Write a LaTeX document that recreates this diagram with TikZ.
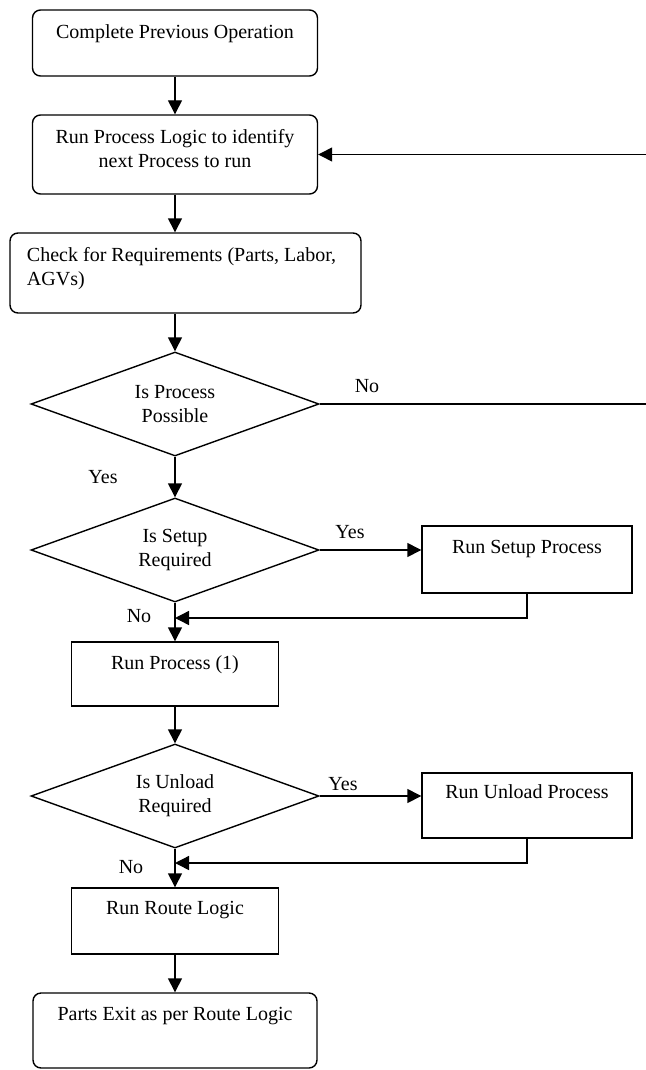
\documentclass[tikz,border=0pt]{standalone}
\usepackage{fontspec}
\setmainfont{Liberation Serif}
\usetikzlibrary{shapes.geometric,arrows.meta}
\begin{document}
\begin{tikzpicture}[x=1pt,y=-1pt,line width=1.4pt,>={Triangle[length=14pt,width=14pt]}]
        \tikzstyle{rproc}=[draw,rounded corners=8pt,inner sep=0pt]
        \tikzstyle{proc}=[draw,inner sep=0pt]
        \tikzstyle{decision}=[draw,diamond,aspect=2.77,inner sep=0pt,minimum width=288pt,minimum height=104pt,align=center,font=\fontsize{20}{24}\selectfont]
        \tikzstyle{txt}=[anchor=north,align=center,inner sep=0pt,font=\fontsize{20}{24}\selectfont]
        \tikzstyle{lbl}=[inner sep=0pt,font=\fontsize{20}{24}\selectfont]
        \useasboundingbox[fill=white] (0,0) rectangle (645,1070);
       \begin{scope}
         % main column
         \node [rproc,minimum width=285pt,minimum height=66pt] (b1) at (175,43) {};
         \node [txt] (t1) at ([yshift=-15pt]b1.north) {Complete Previous Operation};
         \node [rproc,minimum width=285pt,minimum height=79pt] (b2) at (175,154.5) {};
         \node [txt] (t2) at ([yshift=-14pt]b2.north) {Run Process Logic to identify\\next Process to run};
         \node [rproc,minimum width=351pt,minimum height=80pt] (b3) at (185.5,273) {};
         \node [txt,anchor=north west,align=left] (t3) at ([xshift=17pt,yshift=-14pt]b3.north west) {Check for Requirements (Parts, Labor,\\AGVs)};
         \node [decision] (d1) at (175,404) {Is Process\\Possible};
         \node [decision] (d2) at (175,550) {Is Setup\\Required};
         \node [proc,minimum width=207pt,minimum height=64pt] (b4) at (175,674) {};
         \node [txt] (t4) at ([yshift=-14pt]b4.north) {Run Process (1)};
         \node [decision] (d3) at (175,796) {Is Unload\\Required};
         \node [proc,minimum width=207pt,minimum height=66pt] (b5) at (175,921) {};
         \node [txt] (t5) at ([yshift=-13pt]b5.north) {Run Route Logic};
         \node [rproc,minimum width=284pt,minimum height=75pt] (b6) at (175,1030.5) {};
         \node [txt] (t6) at ([yshift=-14pt]b6.north) {Parts Exit as per Route Logic};

         % side boxes
         \node [proc,minimum width=210pt,minimum height=67pt] (s1) at (527,559.5) {};
         \node [txt] (u1) at ([yshift=-14pt]s1.north) {Run Setup Process};
         \node [proc,minimum width=210pt,minimum height=65pt] (s2) at (527,805.5) {};
         \node [txt] (u2) at ([yshift=-12pt]s2.north) {Run Unload Process};

         \coordinate (m1) at (175,618);
         \coordinate (m2) at (175,863);
         \coordinate (loop) at (648,404);

         % connectors
         \draw [->] (b1) -- (b2);
         \draw [->] (b2.south) -- (b2.south |- b3.north);
         \draw [->] (d1.north |- b3.south) -- (d1.north);
         \draw [->] (d1) -- (d2);
         \draw [->] (d1.east) -- (loop) |- (b2.east);
         \draw [->] (d2.east) -- (d2.east -| s1.west);
         \draw [->] (s1.south) |- (m1);
         \draw [->] (d2) -- (b4);
         \draw [->] (b4) -- (d3);
         \draw [->] (d3.east) -- (d3.east -| s2.west);
         \draw [->] (s2.south) |- (m2);
         \draw [->] (d3) -- (b5);
         \draw [->] (b5) -- (b6);

         % branch labels
         \node [lbl] (no1) at (367,386) {No};
         \node [lbl] (yes1) at (103,477) {Yes};
         \node [lbl] (yes2) at (350,532) {Yes};
         \node [lbl] (no2) at (139,616) {No};
         \node [lbl] (yes3) at (343,784) {Yes};
         \node [lbl] (no3) at (131,867) {No};
        \end{scope}
      \end{tikzpicture}
\end{document}
